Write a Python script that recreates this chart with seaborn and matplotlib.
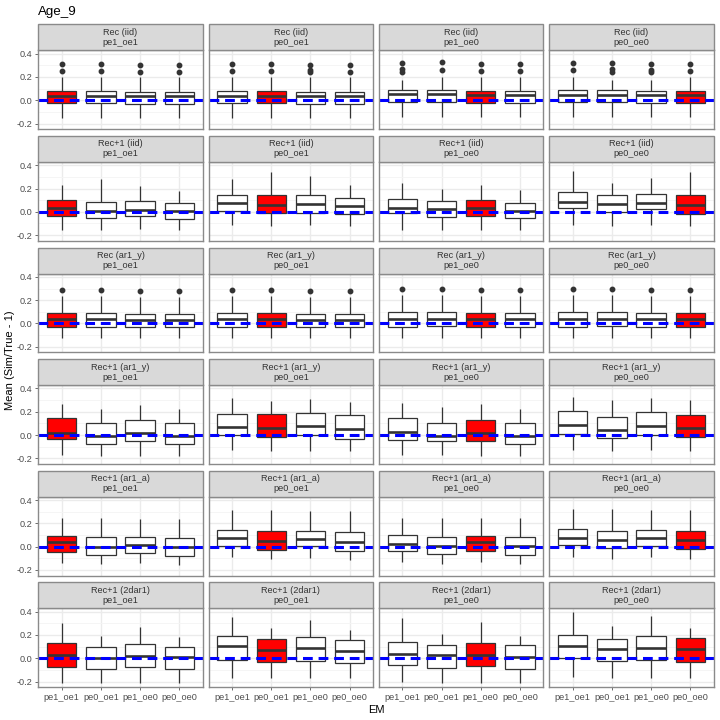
import numpy as np
import pandas as pd
import matplotlib
matplotlib.use("Agg")
import matplotlib.pyplot as plt
from matplotlib.patches import Rectangle
import seaborn as sns

EM = ["pe1_oe1", "pe0_oe1", "pe1_oe0", "pe0_oe0"]
OM = ["pe1_oe1", "pe0_oe1", "pe1_oe0", "pe0_oe0"]
MODELS = ["Rec (iid)", "Rec+1 (iid)", "Rec (ar1_y)", "Rec+1 (ar1_y)", "Rec+1 (ar1_a)", "Rec+1 (2dar1)"]

# ---- box statistics: [panel (OM)][box (EM)] ----
# Row 1: Rec (iid)
r1_q1 = [[-0.026, -0.023, -0.031, -0.031], [-0.026, -0.023, -0.031, -0.031],
         [-0.017, -0.014, -0.023, -0.023], [-0.017, -0.017, -0.023, -0.026]]
r1_med = [[0.040, 0.040, 0.037, 0.037], [0.040, 0.040, 0.034, 0.037],
          [0.051, 0.051, 0.046, 0.043], [0.049, 0.049, 0.043, 0.046]]
r1_q3 = [[0.080, 0.080, 0.071, 0.071], [0.080, 0.080, 0.069, 0.071],
         [0.086, 0.091, 0.083, 0.080], [0.089, 0.086, 0.077, 0.083]]
r1_lo = [[-0.150] * 4, [-0.150] * 4, [-0.146] * 4, [-0.146] * 4]
r1_hi = [[0.20, 0.20, 0.20, 0.20], [0.20, 0.20, 0.20, 0.20],
         [0.17, 0.20, 0.20, 0.20], [0.20, 0.17, 0.17, 0.20]]
r1_out = [[[0.254, 0.314], [0.254, 0.314], [0.243, 0.303], [0.243, 0.303]],
          [[0.254, 0.314], [0.254, 0.314], [0.243, 0.263, 0.300], [0.243, 0.303]],
          [[0.245, 0.266, 0.323], [0.263, 0.326], [0.254, 0.314], [0.254, 0.314]],
          [[0.263, 0.323], [0.245, 0.269, 0.323], [0.240, 0.263, 0.314], [0.254, 0.314]]]

# Row 2: Rec+1 (iid)
r2_q1 = [[-0.040, -0.057, -0.034, -0.060], [0.006, -0.009, -0.006, -0.020],
         [-0.011, -0.043, -0.037, -0.049], [0.031, -0.003, 0.026, -0.017]]
r2_med = [[0.034, 0.009, 0.020, 0.009], [0.074, 0.063, 0.066, 0.051],
          [0.037, 0.023, 0.034, 0.009], [0.086, 0.066, 0.080, 0.060]]
r2_q3 = [[0.103, 0.086, 0.091, 0.077], [0.146, 0.146, 0.143, 0.117],
         [0.111, 0.089, 0.103, 0.077], [0.171, 0.146, 0.154, 0.143]]
r2_lo = [[-0.154, -0.160, -0.151, -0.160], [-0.111, -0.120, -0.111, -0.120],
         [-0.154, -0.160, -0.154, -0.160], [-0.111, -0.120, -0.114, -0.120]]
r2_hi = [[0.234, 0.280, 0.223, 0.180], [0.286, 0.343, 0.311, 0.231],
         [0.246, 0.200, 0.234, 0.189], [0.351, 0.251, 0.289, 0.343]]

# Row 3: Rec (ar1_y)
r3_q1 = [[-0.031, -0.031, -0.031, -0.031], [-0.029, -0.029, -0.031, -0.031],
         [-0.029, -0.026, -0.031, -0.031], [-0.029, -0.020, -0.029, -0.031]]
r3_med = [[0.034, 0.034, 0.031, 0.031], [0.034, 0.034, 0.031, 0.031],
          [0.040, 0.040, 0.034, 0.034], [0.040, 0.040, 0.034, 0.034]]
r3_q3 = [[0.091, 0.091, 0.080, 0.080], [0.091, 0.091, 0.080, 0.080],
         [0.097, 0.097, 0.091, 0.086], [0.097, 0.097, 0.086, 0.091]]
r3_lo = [[-0.126] * 4, [-0.126] * 4, [-0.126] * 4, [-0.126] * 4]
r3_hi = [[0.234, 0.234, 0.229, 0.229], [0.234, 0.234, 0.229, 0.229],
         [0.240, 0.240, 0.234, 0.234], [0.240, 0.240, 0.234, 0.234]]
r3_out = [[[0.289], [0.289], [0.280], [0.280]], [[0.289], [0.289], [0.280], [0.280]],
          [[0.297], [0.297], [0.289], [0.289]], [[0.297], [0.297], [0.289], [0.289]]]

# Row 4: Rec+1 (ar1_y)
r4_q1 = [[-0.034, -0.074, -0.049, -0.074], [0.000, -0.020, -0.003, -0.034],
         [-0.040, -0.049, -0.051, -0.074], [0.009, -0.026, 0.003, -0.014]]
r4_med = [[0.020, -0.009, 0.017, -0.006], [0.069, 0.057, 0.077, 0.051],
          [0.026, -0.006, 0.020, -0.006], [0.083, 0.046, 0.077, 0.057]]
r4_q3 = [[0.149, 0.100, 0.131, 0.106], [0.180, 0.180, 0.191, 0.171],
         [0.149, 0.103, 0.131, 0.103], [0.209, 0.157, 0.197, 0.174]]
r4_lo = [[-0.169, -0.180, -0.180, -0.180], [-0.131, -0.137, -0.134, -0.140],
         [-0.169, -0.174, -0.180, -0.180], [-0.126, -0.134, -0.131, -0.140]]
r4_hi = [[0.266, 0.226, 0.254, 0.220], [0.320, 0.294, 0.306, 0.286],
         [0.277, 0.237, 0.266, 0.226], [0.331, 0.303, 0.320, 0.297]]

# Row 5: Rec+1 (ar1_a)
r5_q1 = [[-0.049, -0.069, -0.051, -0.077], [0.006, -0.026, 0.009, -0.034],
         [-0.040, -0.060, -0.037, -0.069], [0.011, -0.014, 0.009, -0.020]]
r5_med = [[0.040, 0.000, 0.014, 0.000], [0.071, 0.051, 0.066, 0.043],
          [0.026, 0.006, 0.043, 0.006], [0.077, 0.057, 0.074, 0.054]]
r5_q3 = [[0.094, 0.083, 0.083, 0.071], [0.146, 0.137, 0.134, 0.126],
         [0.103, 0.086, 0.094, 0.080], [0.154, 0.137, 0.143, 0.134]]
r5_lo = [[-0.137, -0.149, -0.140, -0.154], [-0.091, -0.109, -0.097, -0.114],
         [-0.134, -0.149, -0.134, -0.149], [-0.086, -0.106, -0.091, -0.109]]
r5_hi = [[0.243, 0.243, 0.234, 0.234], [0.311, 0.311, 0.303, 0.303],
         [0.249, 0.249, 0.243, 0.243], [0.320, 0.320, 0.311, 0.311]]

# Row 6: Rec+1 (2dar1)
r6_q1 = [[-0.074, -0.089, -0.077, -0.094], [-0.017, -0.034, -0.023, -0.040],
         [-0.060, -0.080, -0.071, -0.089], [0.000, -0.026, -0.017, -0.029]]
r6_med = [[0.029, 0.006, 0.023, 0.009], [0.109, 0.074, 0.089, 0.066],
          [0.040, 0.026, 0.029, 0.014], [0.106, 0.083, 0.089, 0.077]]
r6_q3 = [[0.131, 0.100, 0.120, 0.097], [0.191, 0.169, 0.186, 0.154],
         [0.143, 0.117, 0.129, 0.117], [0.203, 0.169, 0.191, 0.171]]
r6_lo = [[-0.211, -0.214, -0.214, -0.217], [-0.166, -0.171, -0.171, -0.171],
         [-0.206, -0.211, -0.211, -0.214], [-0.157, -0.166, -0.166, -0.171]]
r6_hi = [[0.303, 0.194, 0.271, 0.180], [0.357, 0.257, 0.326, 0.246],
         [0.349, 0.209, 0.309, 0.189], [0.395, 0.274, 0.363, 0.257]]

NO_OUT = [[[], [], [], []] for _ in range(4)]
ROWS = [
    (r1_lo, r1_q1, r1_med, r1_q3, r1_hi, r1_out),
    (r2_lo, r2_q1, r2_med, r2_q3, r2_hi, NO_OUT),
    (r3_lo, r3_q1, r3_med, r3_q3, r3_hi, r3_out),
    (r4_lo, r4_q1, r4_med, r4_q3, r4_hi, NO_OUT),
    (r5_lo, r5_q1, r5_med, r5_q3, r5_hi, NO_OUT),
    (r6_lo, r6_q1, r6_med, r6_q3, r6_hi, NO_OUT),
]


def sample_from_stats(lo, q1, med, q3, hi, outs):
    """Build a sample whose quartiles/whiskers/outliers equal the given stats."""
    m = len(outs) + 1
    return [lo] * m + [q1] * m + [med] * m + [q3, hi] + list(outs)


records = []
for ri, model in enumerate(MODELS):
    lo, q1, med, q3, hi, out = ROWS[ri]
    for pi, om in enumerate(OM):
        for bi, em in enumerate(EM):
            vals = sample_from_stats(lo[pi][bi], q1[pi][bi], med[pi][bi],
                                     q3[pi][bi], hi[pi][bi], out[pi][bi])
            for v in vals:
                records.append((model, om, em, "match" if em == om else "other", v))
df = pd.DataFrame(records, columns=["model", "OM", "EM", "match", "value"])

sns.set_theme(style="white")
plt.rcParams["font.family"] = ["Liberation Sans", "DejaVu Sans"]

fig = plt.figure(figsize=(7.2, 7.2), dpi=100)
W, H = 720.0, 720.0
col_left0, col_pitch, pan_w = 38.3, 170.3, 164.5
row_top0, row_pitch, pan_h = 50.3, 111.6, 78.8
strip_h = 26.0
ylim = (-0.248, 0.429)

grey_border = "#8A8A8A"
for ri, model in enumerate(MODELS):
    for ci, om in enumerate(OM):
        left = col_left0 + col_pitch * ci
        top = row_top0 + row_pitch * ri
        ax = fig.add_axes([left / W, 1 - (top + pan_h) / H, pan_w / W, pan_h / H])
        sub = df[(df["model"] == model) & (df["OM"] == om)]
        sns.boxplot(data=sub, x="EM", y="value", hue="match", order=EM,
                    hue_order=["match", "other"],
                    palette={"match": "#FF0000", "other": "#FFFFFF"},
                    dodge=False, width=0.75, saturation=1, legend=False,
                    linecolor="#333333", linewidth=0.9, showcaps=False,
                    fliersize=3.2,
                    flierprops=dict(marker="o", markerfacecolor="#333333",
                                    markeredgecolor="#333333"),
                    medianprops=dict(linewidth=1.9, color="#333333"),
                    ax=ax, zorder=3)
        ax.axhline(0, color="#0000FF", lw=2.2, ls=(0, (3.2, 1.9)), zorder=10)
        ax.set_xlim(-0.6, 3.6)
        ax.set_ylim(*ylim)
        ax.set_yticks([-0.2, 0.0, 0.2, 0.4])
        ax.set_yticks([-0.1, 0.1, 0.3], minor=True)
        ax.set_xticks(range(4))
        ax.grid(True, which="major", color="#EBEBEB", lw=1.0, zorder=0)
        ax.grid(True, which="minor", axis="y", color="#F4F4F4", lw=0.6, zorder=0)
        ax.set_axisbelow(True)
        ax.set_facecolor("white")
        for s in ax.spines.values():
            s.set_color(grey_border)
            s.set_linewidth(1.0)
            s.set_zorder(12)
        ax.set_xlabel("")
        ax.set_ylabel("")
        if ci == 0:
            ax.set_yticklabels(["-0.2", "0.0", "0.2", "0.4"])
            ax.tick_params(axis="y", which="major", left=True, length=2.5, width=0.6,
                           color="#555555", labelsize=6.6, labelcolor="#4D4D4D", pad=2)
        else:
            ax.tick_params(axis="y", which="both", left=False, labelleft=False)
        ax.tick_params(axis="y", which="minor", left=False)
        if ri == len(MODELS) - 1:
            ax.set_xticklabels(EM)
            ax.tick_params(axis="x", bottom=True, length=2.5, width=0.6,
                           color="#555555", labelsize=6.6, labelcolor="#4D4D4D", pad=2)
        else:
            ax.tick_params(axis="x", bottom=False, labelbottom=False)
        # strip
        sh = strip_h / pan_h
        ax.add_patch(Rectangle((0, 1), 1, sh, transform=ax.transAxes,
                               facecolor="#D9D9D9", edgecolor=grey_border,
                               lw=1.0, clip_on=False, zorder=15))
        ax.text(0.5, 1 + sh / 2, f"{model}\n{om}", transform=ax.transAxes,
                ha="center", va="center", fontsize=6.6, color="#333333",
                linespacing=1.15, zorder=16)

fig.text(38 / W, 1 - 12 / H, "Age_9", ha="left", va="center", fontsize=9.6, color="black")
fig.text(376 / W, 1 - 710 / H, "EM", ha="center", va="center", fontsize=8, color="black")
fig.text(10 / W, 0.5, "Mean (Sim/True - 1)", rotation=90, ha="center", va="center",
         fontsize=8, color="black")

fig.savefig("out.png", dpi=100, facecolor="white")
